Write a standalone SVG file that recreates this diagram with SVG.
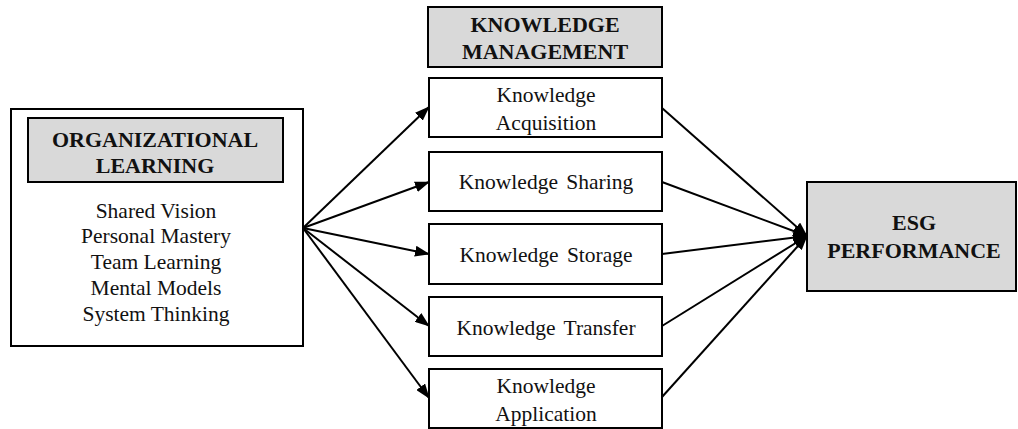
<svg xmlns="http://www.w3.org/2000/svg" width="1018" height="429" viewBox="0 0 1018 429">
<style>
.box{fill:#fff;stroke:#000;stroke-width:2}
.hdr{fill:#d9d9d9;stroke:#000;stroke-width:2}
.t{font-family:"Liberation Serif","Times New Roman",serif;font-size:21.5px;fill:#111;text-anchor:middle}
.b{font-family:"Liberation Serif","Times New Roman",serif;font-size:22px;font-weight:bold;fill:#111;text-anchor:middle}
.c{stroke:#000;stroke-width:2;fill:none;marker-end:url(#ah)}
</style>
<defs>
<marker id="ah" markerUnits="userSpaceOnUse" markerWidth="15" markerHeight="11" refX="14" refY="5.5" orient="auto">
<path d="M0,0 L15,5.5 L0,11 z" fill="#000"/>
</marker>
</defs>
<g id="connectors">
<line class="c" x1="303" y1="228" x2="429" y2="107"/>
<line class="c" x1="303" y1="228" x2="429" y2="182"/>
<line class="c" x1="303" y1="228" x2="429" y2="254"/>
<line class="c" x1="303" y1="228" x2="429" y2="326"/>
<line class="c" x1="303" y1="228" x2="429" y2="398"/>
<line class="c" x1="662" y1="108" x2="807" y2="236"/>
<line class="c" x1="662" y1="182" x2="807" y2="236"/>
<line class="c" x1="662" y1="254" x2="807" y2="236"/>
<line class="c" x1="662" y1="326" x2="807" y2="236"/>
<line class="c" x1="662" y1="397" x2="807" y2="236"/>
</g>
<g id="org-learning">
<rect class="box" x="11" y="109" width="292" height="237"/>
<rect class="hdr" x="28" y="118" width="255" height="64"/>
<text class="b" x="155" y="147">ORGANIZATIONAL</text>
<text class="b" x="155" y="173">LEARNING</text>
<text class="t" x="156" y="218">Shared Vision</text>
<text class="t" x="156" y="243">Personal Mastery</text>
<text class="t" x="156" y="269">Team Learning</text>
<text class="t" x="156" y="295">Mental Models</text>
<text class="t" x="156" y="321">System Thinking</text>
</g>
<g id="km-header">
<rect class="hdr" x="428" y="7" width="234" height="60"/>
<text class="b" x="545" y="32">KNOWLEDGE</text>
<text class="b" x="545" y="59">MANAGEMENT</text>
</g>
<g id="km-acquisition">
<rect class="box" x="429" y="78" width="233" height="59"/>
<text class="t" x="546" y="102">Knowledge</text>
<text class="t" x="546" y="130">Acquisition</text>
</g>
<g id="km-sharing">
<rect class="box" x="429" y="152" width="233" height="59"/>
<text class="t" x="546" y="189" word-spacing="3">Knowledge Sharing</text>
</g>
<g id="km-storage">
<rect class="box" x="429" y="224" width="233" height="60"/>
<text class="t" x="546" y="262" word-spacing="3">Knowledge Storage</text>
</g>
<g id="km-transfer">
<rect class="box" x="429" y="297" width="233" height="59"/>
<text class="t" x="546" y="335" word-spacing="3">Knowledge Transfer</text>
</g>
<g id="km-application">
<rect class="box" x="429" y="369" width="233" height="59"/>
<text class="t" x="546" y="393">Knowledge</text>
<text class="t" x="546" y="421">Application</text>
</g>
<g id="esg">
<rect class="hdr" x="807" y="182" width="209" height="109"/>
<text class="b" x="914" y="230">ESG</text>
<text class="b" x="914" y="258">PERFORMANCE</text>
</g>
</svg>
